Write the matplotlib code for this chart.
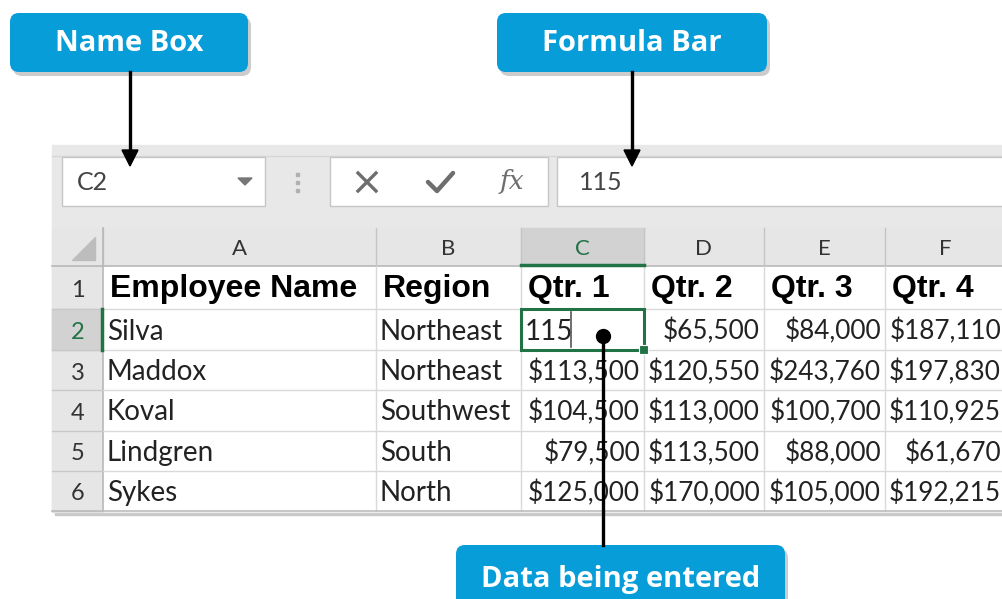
import matplotlib.pyplot as plt
from matplotlib.patches import Rectangle, FancyBboxPatch, Polygon

# table contents
col_letters = ["A", "B", "C", "D", "E", "F"]
header = ["Employee Name", "Region", "Qtr. 1", "Qtr. 2", "Qtr. 3", "Qtr. 4"]
names = ["Silva", "Maddox", "Koval", "Lindgren", "Sykes"]
regions = ["Northeast", "Northeast", "Southwest", "South", "North"]
qtr1 = ["115", "$113,500", "$104,500", "$79,500", "$125,000"]
qtr2 = ["$65,500", "$120,550", "$113,000", "$113,500", "$170,000"]
qtr3 = ["$84,000", "$243,760", "$100,700", "$88,000", "$105,000"]
qtr4 = ["$187,110", "$197,830", "$110,925", "$61,670", "$192,215"]
name_box_text = "C2"
formula_text = "115"
callouts = ["Name Box", "Formula Bar", "Data being entered"]

# layout in pixels
W, H = 1003, 599
col_edges = [103, 376, 521, 644, 764, 885, 1010]
row_edges = [266, 309, 350, 390, 431, 471, 511]
BLUE = "#079dd9"
GREEN = "#217346"
GRID = "#d9d9d9"
HEAD = "#e6e6e6"
CELLFONT = "Lato"

fig = plt.figure(figsize=(W / 100, H / 100), dpi=100)
ax = fig.add_axes([0, 0, 1, 1])
ax.set_xlim(0, W)
ax.set_ylim(H, 0)
ax.axis("off")

# panel with shadow
ax.add_patch(Rectangle((55, 148), W, 367, color="#c8c8c8", zorder=0))
ax.add_patch(Rectangle((52, 145), W, 367, color="#e8e8e8", zorder=1))
ax.plot([52, W], [156, 156], color="#d6d6d6", lw=1, zorder=2)

# name box
ax.add_patch(Rectangle((62, 157), 203, 49, fc="white", ec="#c6c6c6", lw=1, zorder=2))
ax.text(77, 183, name_box_text, fontsize=18, family=CELLFONT, color="#444444", va="center", zorder=3)
ax.add_patch(Polygon([[238, 178], [252, 178], [245, 185]], color="#777777", zorder=3))
for yy in (174, 182, 190):
    ax.add_patch(Rectangle((296, yy - 1.5), 3, 3, color="#b0b0b0", zorder=3))

# icons box
ax.add_patch(Rectangle((330, 157), 218, 49, fc="white", ec="#c6c6c6", lw=1, zorder=2))
ax.plot([358, 376], [173, 191], color="#6e6e6e", lw=2.4, zorder=3)
ax.plot([358, 376], [191, 173], color="#6e6e6e", lw=2.4, zorder=3)
ax.plot([428, 437, 453], [182, 191, 173], color="#6e6e6e", lw=3.2, zorder=3, solid_capstyle="round")
ax.text(512, 181, "fx", fontsize=19, style="italic", family="DejaVu Serif", color="#6e6e6e",
        va="center", ha="center", zorder=3)

# formula field
ax.add_patch(Rectangle((557, 157), 460, 49, fc="white", ec="#c6c6c6", lw=1, zorder=2))
ax.text(579, 183, formula_text, fontsize=18, family=CELLFONT, color="#444444", va="center", zorder=3)

# column header row
ax.add_patch(Rectangle((52, 228), W, 38, color=HEAD, zorder=2))
ax.add_patch(Rectangle((col_edges[2], 228), col_edges[3] - col_edges[2], 38, color="#d2d2d2", zorder=2))
ax.add_patch(Polygon([[95, 237], [95, 260], [72, 260]], color="#bdbdbd", zorder=3))
for i, letter in enumerate(col_letters):
    cx = (col_edges[i] + col_edges[i + 1]) / 2
    if i == 5:
        cx = 945
    ax.text(cx, 249, letter, fontsize=16, family=CELLFONT, ha="center", va="center",
            color=GREEN if i == 2 else "#333333", zorder=4)
for x in col_edges[:-1]:
    ax.plot([x, x], [228, 266], color="#c4c4c4", lw=1, zorder=3)
ax.plot([52, W], [266, 266], color="#b8b8b8", lw=1.2, zorder=3)
ax.plot([col_edges[2], col_edges[3]], [265, 265], color=GREEN, lw=2.5, zorder=4)

# row header column
ax.add_patch(Rectangle((52, 266), 51, row_edges[-1] - 266, color=HEAD, zorder=2))
ax.add_patch(Rectangle((52, row_edges[1]), 51, row_edges[2] - row_edges[1], color="#d2d2d2", zorder=2))
for r in range(6):
    ax.text(78, (row_edges[r] + row_edges[r + 1]) / 2 + 3, str(r + 1), fontsize=17, family=CELLFONT,
            ha="center", va="center", color=GREEN if r == 1 else "#333333", zorder=4)
    ax.plot([52, 103], [row_edges[r + 1], row_edges[r + 1]], color="#c8c8c8", lw=1, zorder=3)
ax.plot([103, 103], [228, row_edges[-1]], color="#b8b8b8", lw=1.2, zorder=3)
ax.plot([102, 102], [row_edges[1], row_edges[2]], color=GREEN, lw=2.5, zorder=4)

# cells
ax.add_patch(Rectangle((103, 266), W, row_edges[-1] - 266, color="white", zorder=2))
for x in col_edges[1:-1]:
    ax.plot([x, x], [266, row_edges[-1]], color=GRID, lw=1, zorder=3)
for y in row_edges[1:-1]:
    ax.plot([103, W], [y, y], color=GRID, lw=1, zorder=3)
ax.plot([52, W], [row_edges[-1], row_edges[-1]], color="#bcbcbc", lw=1.2, zorder=3)

for i, h in enumerate(header):
    ax.text(col_edges[i] + 7, (row_edges[0] + row_edges[1]) / 2 + 2, h, fontsize=23, weight="bold",
            family="Liberation Sans", va="center", color="black", zorder=4)

columns = [names, regions, qtr1, qtr2, qtr3, qtr4]
for c, vals in enumerate(columns):
    for r, v in enumerate(vals):
        cy = (row_edges[r + 1] + row_edges[r + 2]) / 2 + 2
        numeric = c >= 2 and not (c == 2 and r == 0)
        if numeric:
            right = col_edges[c + 1] - 4 if c < 5 else 1001
            ax.text(right, cy, v, fontsize=18.8, family=CELLFONT, ha="right", va="center",
                    color="#222222", zorder=4)
        else:
            ax.text(col_edges[c] + 4, cy, v, fontsize=20, family=CELLFONT, ha="left", va="center",
                    color="#222222", zorder=4)

# active cell
x0, x1 = col_edges[2], col_edges[3]
y0, y1 = row_edges[1], row_edges[2]
ax.add_patch(Rectangle((x0, y0), x1 - x0, y1 - y0, fill=False, ec=GREEN, lw=2.2, zorder=5))
ax.add_patch(Rectangle((x1 - 4, y1 - 4), 7, 7, color=GREEN, zorder=6))
ax.add_patch(Rectangle((x1 - 5, y1 - 5), 9, 9, fc="none", ec="white", lw=0.8, zorder=6))
ax.plot([571, 571], [y0 + 3, y1 - 3], color="#555555", lw=1.2, zorder=5)


def callout(xa, xb, ya, yb, label, size):
    ax.add_patch(FancyBboxPatch((xa + 3, ya + 4), xb - xa, yb - ya, boxstyle="round,pad=0,rounding_size=9",
                                fc="#9a9a9a", ec="none", alpha=0.5, zorder=7))
    ax.add_patch(FancyBboxPatch((xa, ya), xb - xa, yb - ya, boxstyle="round,pad=0,rounding_size=9",
                                fc=BLUE, ec="none", zorder=8))
    ax.text((xa + xb) / 2, (ya + yb) / 2 + 1, label, fontsize=size, weight="bold", family="Open Sans",
            color="white", ha="center", va="center", zorder=9)


callout(10, 248, 13, 72, callouts[0], 21)
callout(497, 767, 13, 72, callouts[1], 21)
callout(456, 785, 545, 612, callouts[2], 21)

# arrows
for ax_x in (130, 632):
    ax.plot([ax_x, ax_x], [72, 152], color="black", lw=2.4, zorder=9)
    ax.add_patch(Polygon([[ax_x - 8, 150], [ax_x + 8, 150], [ax_x, 166]], color="black", zorder=9))
ax.plot([603, 603], [336, 545], color="black", lw=2.4, zorder=9)
ax.plot([603], [336], "o", color="black", ms=10, zorder=9)

fig.savefig("out.png", dpi=100)
